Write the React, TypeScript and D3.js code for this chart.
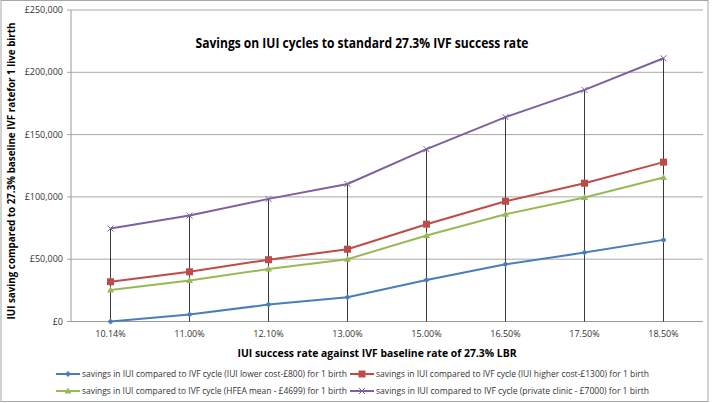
import React from 'react';
import * as d3 from 'd3';

const categories = ['10.14%', '11.00%', '12.10%', '13.00%', '15.00%', '16.50%', '17.50%', '18.50%'];

const lowerCost = [0, 5600, 13600, 19500, 33300, 45900, 55300, 65500];
const higherCost = [31900, 39900, 49600, 58000, 78100, 96500, 111000, 127900];
const hfeaMean = [25300, 32900, 42100, 50000, 69000, 86100, 99500, 115500];
const privateClinic = [74600, 85000, 98400, 110400, 138300, 164000, 185900, 211300];

const yTicks = [0, 50000, 100000, 150000, 200000, 250000];

const seriesNames = [
  'savings in IUI compared to IVF cycle (IUI lower cost-£800) for 1 birth',
  'savings in IUI compared to IVF cycle (IUI higher cost-£1300) for 1 birth',
  'savings in IUI compared to IVF cycle (HFEA mean - £4699) for 1 birth',
  'savings in IUI compared to IVF cycle (private clinic - £7000) for 1 birth',
];

const FONT = "'Open Sans', 'Liberation Sans', sans-serif";

type Marker = 'diamond' | 'square' | 'triangle' | 'cross';

const series: { name: string; values: number[]; color: string; marker: Marker }[] = [
  { name: seriesNames[0], values: lowerCost, color: '#4A7EBB', marker: 'diamond' },
  { name: seriesNames[1], values: higherCost, color: '#BE4B48', marker: 'square' },
  { name: seriesNames[2], values: hfeaMean, color: '#98B954', marker: 'triangle' },
  { name: seriesNames[3], values: privateClinic, color: '#7D60A0', marker: 'cross' },
];

const drawMarker = (m: Marker, x: number, y: number, color: string, key: string) => {
  switch (m) {
    case 'diamond':
      return <path key={key} d={`M${x},${y - 3}L${x + 3},${y}L${x},${y + 3}L${x - 3},${y}Z`} fill={color} />;
    case 'square':
      return <rect key={key} x={x - 3.5} y={y - 3.5} width={7} height={7} fill={color} />;
    case 'triangle':
      return <path key={key} d={`M${x},${y - 3.5}L${x + 3.5},${y + 2.5}L${x - 3.5},${y + 2.5}Z`} fill={color} />;
    case 'cross':
      return (
        <path key={key} d={`M${x - 3},${y - 3}L${x + 3},${y + 3}M${x - 3},${y + 3}L${x + 3},${y - 3}`}
          stroke={color} strokeWidth={1} fill="none" />
      );
  }
};

export default function App() {
  const width = 712;
  const height = 403;
  const plot = { left: 71, right: 703, top: 10, bottom: 321.5 };

  const x = d3.scalePoint<string>().domain(categories).range([plot.left, plot.right]).padding(0.5);
  const y = d3.scaleLinear().domain([0, 250000]).range([plot.bottom, plot.top]);
  const fmt = (v: number) => '£' + d3.format(',')(v);

  const line = d3
    .line<number>()
    .x((_, i) => x(categories[i]) as number)
    .y((d) => y(d));

  const maxes = categories.map((_, i) => d3.max(series, (s) => s.values[i]) as number);

  const legendRows = [
    { y: 374, items: [0, 1] },
    { y: 391, items: [2, 3] },
  ];
  const legendCols = [{ mx: 56, tx: 82, w: 265 }, { mx: 350, tx: 376, w: 273 }];

  return (
    <svg width={width} height={height} style={{ position: 'absolute', left: 0, top: 0, display: 'block' }}
      fontFamily={FONT}>
      <rect x={0} y={0} width={width} height={height} fill="#fff" />
      <rect x={1} y={0.5} width={707} height={401} fill="none" stroke="#a6a6a6" />

      {/* gridlines */}
      {yTicks.map((t) => (
        <line key={t} x1={plot.left - 4} x2={plot.right} y1={y(t)} y2={y(t)}
          stroke={t === 0 ? '#9a9a9a' : '#a8a8a8'} strokeWidth={1} />
      ))}
      <line x1={plot.left} x2={plot.left} y1={plot.top} y2={plot.bottom} stroke="#9a9a9a" />

      {/* y tick labels */}
      {yTicks.map((t) => (
        <text key={'yl' + t} x={63} y={y(t)} dy="0.35em" textAnchor="end" fontSize={9} fill="#333">
          {fmt(t)}
        </text>
      ))}

      {/* x tick labels */}
      {categories.map((c) => (
        <text key={c} x={x(c)} y={337} textAnchor="middle" fontSize={9} fill="#333">{c}</text>
      ))}

      {/* drop lines */}
      {categories.map((c, i) => (
        <line key={'d' + c} x1={x(c)} x2={x(c)} y1={y(maxes[i])} y2={y(0)} stroke="#222" strokeWidth={0.9} />
      ))}

      {/* series */}
      {series.map((s) => (
        <g key={s.name}>
          <path d={line(s.values) || ''} fill="none" stroke={s.color} strokeWidth={2} />
          {s.values.map((v, i) => drawMarker(s.marker, x(categories[i]) as number, y(v), s.color, s.name + i))}
        </g>
      ))}

      {/* title */}
      <text x={362} y={48} textAnchor="middle" fontSize={13.5} fontWeight="bold" fill="#000"
        textLength={333} lengthAdjust="spacingAndGlyphs">
        Savings on IUI cycles to standard 27.3% IVF success rate
      </text>

      {/* axis titles */}
      <text x={377} y={357} textAnchor="middle" fontSize={10} fontWeight="bold" fill="#000"
        textLength={279} lengthAdjust="spacingAndGlyphs">
        IUI success rate against IVF baseline rate of 27.3% LBR
      </text>
      <text transform="translate(15,171) rotate(-90)" textAnchor="middle" fontSize={10} fontWeight="bold" fill="#000"
        textLength={297} lengthAdjust="spacingAndGlyphs">
        IUI saving compared to 27.3%  baseline IVF ratefor 1 live birth
      </text>

      {/* legend */}
      {legendRows.map((row) =>
        row.items.map((si, ci) => {
          const s = series[si];
          const col = legendCols[ci];
          return (
            <g key={'lg' + si}>
              <line x1={col.mx} x2={col.mx + 24} y1={row.y} y2={row.y} stroke={s.color} strokeWidth={2} />
              {drawMarker(s.marker, col.mx + 12, row.y, s.color, 'lm' + si)}
              <text x={col.tx} y={row.y} dy="0.35em" fontSize={9} fill="#333"
                textLength={col.w} lengthAdjust="spacingAndGlyphs">
                {s.name}
              </text>
            </g>
          );
        })
      )}
    </svg>
  );
}
